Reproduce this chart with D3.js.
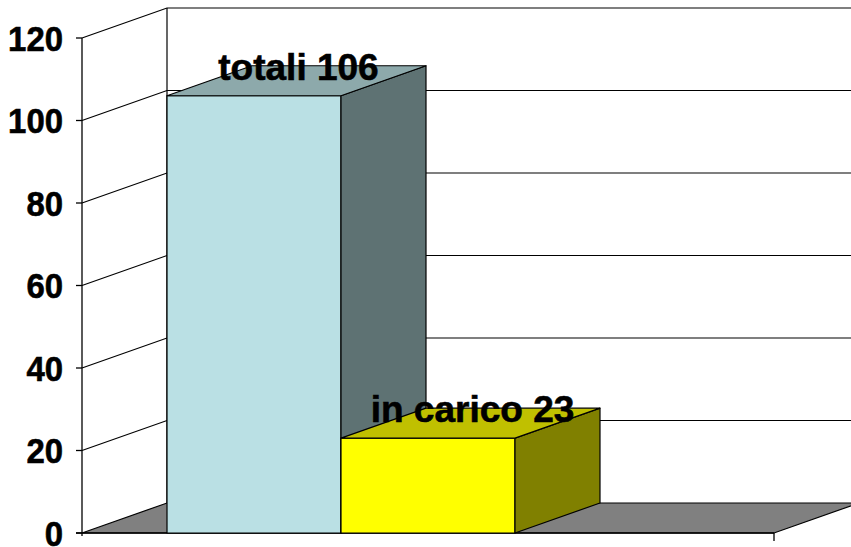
<!DOCTYPE html>
<html>
<head>
<meta charset="utf-8">
<script src="https://cdn.jsdelivr.net/npm/d3@7"></script>
<style>
  html, body { margin: 0; padding: 0; background: #fff; }
  svg { display: block; }
  text { font-family: "Liberation Sans", Arial, sans-serif; font-weight: bold; fill: #000; stroke: #000; stroke-width: 0.6px; }
</style>
</head>
<body>
<svg id="chart" width="851" height="547"></svg>
<script>
// Values
const categories = ["totali", "in carico"];
const values = [106, 23];
const yTicks = [0, 20, 40, 60, 80, 100, 120];

// Face colours per bar: front, top, side
const faceColors = [
  { front: "#BAE0E4", top: "#8DA9AB", side: "#5E7273" },
  { front: "#FFFF00", top: "#C0C000", side: "#808000" }
];

const W = 851, H = 547;
const plotLeft = 82, plotRight = 774;   // front plane of the plot
const plotTop = 38, plotBottom = 533;
const depth = { dx: 85, dy: -30 };      // oblique offset to the back wall

const svg = d3.select("#chart");

const y = d3.scaleLinear().domain([0, 120]).range([plotBottom, plotTop]);
const x = d3.scaleBand().domain(categories).range([167, 515]).padding(0);

const line = d3.line();

// Back wall + side wall gridlines
const grid = svg.append("g").attr("stroke", "#000").attr("stroke-width", 1.2).attr("fill", "none");
yTicks.forEach(t => {
  const yy = y(t);
  if (t > 0) {
    grid.append("path").attr("d", line([[plotLeft, yy], [plotLeft + depth.dx, yy + depth.dy], [W + 10, yy + depth.dy]]));
  }
});
grid.append("path").attr("d", line([[plotLeft + depth.dx, y(120) + depth.dy], [plotLeft + depth.dx, y(0) + depth.dy]]));

// Floor
svg.append("path")
  .attr("d", line([[plotLeft, plotBottom], [plotRight, plotBottom], [plotRight + depth.dx, plotBottom + depth.dy], [plotLeft + depth.dx, plotBottom + depth.dy]]) + "Z")
  .attr("fill", "#808080").attr("stroke", "#000").attr("stroke-width", 1.2);

// Value axis
const axis = svg.append("g").attr("stroke", "#000").attr("stroke-width", 1.3);
axis.append("path").attr("d", line([[plotLeft, y(120)], [plotLeft, plotBottom + 3]])).attr("fill", "none");
yTicks.forEach(t => {
  axis.append("path").attr("d", line([[plotLeft - 6, y(t)], [plotLeft, y(t)]]));
});
// Category axis line and end tick
axis.append("path").attr("d", line([[plotLeft - 6, plotBottom], [plotRight, plotBottom]]));
axis.append("path").attr("d", line([[plotRight, plotBottom], [plotRight, plotBottom + 8]]));

// Tick labels, slightly condensed
svg.append("g").selectAll("text").data(yTicks).join("text")
  .attr("transform", d => `translate(63,${y(d) + 12.5}) scale(0.94,1)`)
  .attr("text-anchor", "end").attr("font-size", 35)
  .text(d => d);

// 3D columns
const bars = svg.append("g").attr("stroke", "#000").attr("stroke-width", 1.2).attr("stroke-linejoin", "round");
categories.forEach((c, i) => {
  const x0 = x(c), x1 = x0 + x.bandwidth();
  const y0 = y(0), y1 = y(values[i]);
  const { dx, dy } = depth;
  const col = faceColors[i];
  bars.append("path").attr("fill", col.front)
    .attr("d", line([[x0, y0], [x1, y0], [x1, y1], [x0, y1]]) + "Z");
  bars.append("path").attr("fill", col.side)
    .attr("d", line([[x1, y0], [x1 + dx, y0 + dy], [x1 + dx, y1 + dy], [x1, y1]]) + "Z");
  bars.append("path").attr("fill", col.top)
    .attr("d", line([[x0, y1], [x1, y1], [x1 + dx, y1 + dy], [x0 + dx, y1 + dy]]) + "Z");
});

// Value labels centred on each column's top
svg.append("g").selectAll("text").data(categories).join("text")
  .attr("x", c => x(c) + x.bandwidth() / 2 + depth.dx / 2 + 2)
  .attr("y", (c, i) => y(values[i]) + depth.dy / 2 - 1)
  .attr("text-anchor", "middle").attr("font-size", 37)
  .text((c, i) => `${c} ${values[i]}`);
</script>
</body>
</html>
